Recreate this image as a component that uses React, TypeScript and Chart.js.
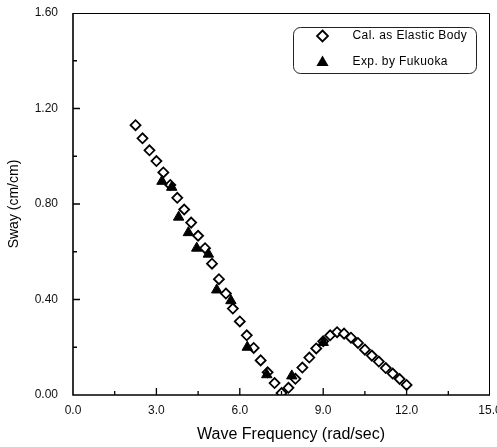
import React, { useEffect, useRef } from 'react';
import { Chart, registerables } from 'chart.js';

Chart.register(...registerables);

const calFreq = [2.25, 2.5, 2.75, 3.0, 3.25, 3.5, 3.75, 4.0, 4.25, 4.5, 4.75, 5.0, 5.25, 5.5, 5.75, 6.0, 6.25, 6.5, 6.75, 7.0, 7.25, 7.5, 7.75, 8.0, 8.25, 8.5, 8.75, 9.0, 9.25, 9.5, 9.75, 10.0, 10.25, 10.5, 10.75, 11.0, 11.25, 11.5, 11.75, 12.0];
const calSway = [1.13, 1.075, 1.025, 0.98, 0.932, 0.88, 0.826, 0.777, 0.722, 0.667, 0.615, 0.55, 0.485, 0.425, 0.362, 0.308, 0.25, 0.197, 0.145, 0.095, 0.05, 0.008, 0.03, 0.068, 0.115, 0.157, 0.195, 0.225, 0.25, 0.263, 0.257, 0.24, 0.218, 0.19, 0.165, 0.14, 0.113, 0.09, 0.067, 0.042];

const expFreq = [3.2, 3.55, 3.8, 4.15, 4.45, 4.87, 5.17, 5.68, 6.27, 6.97, 7.87, 9.0];
const expSway = [0.895, 0.87, 0.745, 0.68, 0.615, 0.59, 0.44, 0.395, 0.2, 0.085, 0.08, 0.22];

const seriesLabels = ['Cal. as Elastic Body', 'Exp. by Fukuoka'];
const xTitle = 'Wave Frequency (rad/sec)';
const yTitle = 'Sway (cm/cm)';

const xTickValues = [0, 3, 6, 9, 12, 15];
const xTickLabels = ['0.0', '3.0', '6.0', '9.0', '12.0', '15.0'];
const xMinorTicks = [1.5, 4.5, 7.5, 10.5, 13.5];
const yTickValues = [0, 0.4, 0.8, 1.2, 1.6];
const yTickLabels = ['0.00', '0.40', '0.80', '1.20', '1.60'];
const yMinorTicks = [0.2, 0.6, 1.0, 1.4];

const FONT = "'Liberation Sans', Arial, sans-serif";

function drawDiamond(ctx: CanvasRenderingContext2D, x: number, y: number, r: number) {
  ctx.beginPath();
  ctx.moveTo(x, y - r);
  ctx.lineTo(x + r, y);
  ctx.lineTo(x, y + r);
  ctx.lineTo(x - r, y);
  ctx.closePath();
  ctx.fillStyle = '#fff';
  ctx.fill();
  ctx.lineWidth = 1.8;
  ctx.strokeStyle = '#000';
  ctx.stroke();
}

function drawTriangle(ctx: CanvasRenderingContext2D, x: number, y: number, r: number) {
  ctx.beginPath();
  for (let i = 0; i < 3; i++) {
    const a = (i * 2 * Math.PI) / 3;
    const px = x + Math.sin(a) * r;
    const py = y - Math.cos(a) * r;
    if (i === 0) ctx.moveTo(px, py);
    else ctx.lineTo(px, py);
  }
  ctx.closePath();
  ctx.fillStyle = '#000';
  ctx.fill();
}

const framePlugin = {
  id: 'frameAndLegend',
  afterDraw(chart: any) {
    const ctx = chart.ctx as CanvasRenderingContext2D;
    const { left, right, top, bottom } = chart.chartArea;
    const xs = chart.scales.x;
    const ys = chart.scales.y;
    ctx.save();
    // frame
    ctx.strokeStyle = '#000';
    ctx.lineWidth = 1;
    ctx.beginPath();
    ctx.moveTo(left, top + 0.5);
    ctx.lineTo(right - 0.5, top + 0.5);
    ctx.lineTo(right - 0.5, bottom);
    ctx.stroke();
    ctx.lineWidth = 1.6;
    ctx.beginPath();
    ctx.moveTo(left, top);
    ctx.lineTo(left, bottom);
    ctx.lineTo(right, bottom);
    ctx.stroke();
    // inside ticks
    ctx.lineWidth = 1.3;
    ctx.beginPath();
    xTickValues.forEach((v) => {
      if (v === 0 || v === 15) return;
      const px = xs.getPixelForValue(v);
      ctx.moveTo(px, bottom);
      ctx.lineTo(px, bottom - 7);
    });
    xMinorTicks.forEach((v) => {
      const px = xs.getPixelForValue(v);
      ctx.moveTo(px, bottom);
      ctx.lineTo(px, bottom - 4);
    });
    yTickValues.forEach((v) => {
      if (v === 0 || v === 1.6) return;
      const py = ys.getPixelForValue(v);
      ctx.moveTo(left, py);
      ctx.lineTo(left + 7, py);
    });
    yMinorTicks.forEach((v) => {
      const py = ys.getPixelForValue(v);
      ctx.moveTo(left, py);
      ctx.lineTo(left + 4, py);
    });
    ctx.stroke();

    // x axis title
    ctx.fillStyle = '#000';
    ctx.font = `16px ${FONT}`;
    ctx.textAlign = 'center';
    ctx.textBaseline = 'middle';
    ctx.fillText(xTitle, 291, 435);

    // legend box
    const bx = right - 196.5;
    const by = top + 14.5;
    const bw = 183;
    const bh = 46;
    ctx.lineWidth = 1;
    ctx.strokeStyle = '#222';
    ctx.beginPath();
    (ctx as any).roundRect(bx, by, bw, bh, 7);
    ctx.stroke();
    drawDiamond(ctx, bx + 29, by + 8.5, 5.5);
    drawTriangle(ctx, bx + 29, by + 35, 7);
    ctx.fillStyle = '#000';
    ctx.font = `12px ${FONT}`;
    (ctx as any).letterSpacing = '0.4px';
    ctx.textBaseline = 'middle';
    ctx.textAlign = 'left';
    ctx.fillText(seriesLabels[0], bx + 59, by + 8.5);
    ctx.fillText(seriesLabels[1], bx + 59, by + 34);
    ctx.restore();
  },
};

export default function App() {
  const canvasRef = useRef<HTMLCanvasElement | null>(null);

  useEffect(() => {
    document.body.style.margin = '0';
    const canvas = canvasRef.current;
    if (!canvas) return;
    const chart = new Chart(canvas, {
      type: 'scatter',
      data: {
        datasets: [
          {
            label: seriesLabels[0],
            data: calFreq.map((x, i) => ({ x, y: calSway[i] })),
            pointStyle: 'rectRot',
            pointRadius: 5,
            pointBackgroundColor: '#fff',
            pointBorderColor: '#000',
            pointBorderWidth: 1.8,
            showLine: false,
            order: 1,
          },
          {
            label: seriesLabels[1],
            data: expFreq.map((x, i) => ({ x, y: expSway[i] })),
            pointStyle: 'triangle',
            pointRadius: 6,
            pointBackgroundColor: '#000',
            pointBorderColor: '#000',
            pointBorderWidth: 1,
            showLine: false,
            order: 0,
          },
        ],
      },
      options: {
        animation: false,
        responsive: true,
        maintainAspectRatio: false,
        layout: { padding: { top: 13, right: 7, bottom: 0, left: 0 } },
        plugins: {
          legend: { display: false },
          tooltip: { enabled: false },
        },
        scales: {
          x: {
            type: 'linear',
            min: 0,
            max: 15,
            afterBuildTicks: (scale: any) => {
              scale.ticks = xTickValues.map((v) => ({ value: v }));
            },
            afterFit: (scale: any) => {
              scale.height = 52;
              scale.paddingLeft = 0;
              scale.paddingRight = 0;
            },
            grid: { display: false, drawTicks: false },
            border: { display: false },
            ticks: {
              padding: 8,
              color: '#111',
              maxRotation: 0,
              autoSkip: false,
              font: { family: FONT, size: 12 },
              callback: (v: any) => {
                const i = xTickValues.indexOf(Number(v));
                return i >= 0 ? xTickLabels[i] : '';
              },
            },
            title: { display: false },
          },
          y: {
            type: 'linear',
            min: 0,
            max: 1.6,
            afterBuildTicks: (scale: any) => {
              scale.ticks = yTickValues.map((v) => ({ value: v }));
            },
            afterFit: (scale: any) => {
              scale.width = 73;
              scale.paddingTop = 0;
              scale.paddingBottom = 0;
            },
            grid: { display: false, drawTicks: false },
            border: { display: false },
            ticks: {
              padding: 15,
              color: '#111',
              autoSkip: false,
              font: { family: FONT, size: 12 },
              callback: (v: any) => {
                const i = yTickValues.findIndex((t) => Math.abs(t - Number(v)) < 1e-9);
                return i >= 0 ? yTickLabels[i] : '';
              },
            },
            title: {
              display: true,
              text: yTitle,
              color: '#000',
              font: { family: FONT, size: 14 },
              padding: { top: 6, bottom: 0 },
            },
          },
        },
      },
      plugins: [framePlugin],
    });
    return () => chart.destroy();
  }, []);

  return (
    <div style={{ width: 497, height: 447, position: 'relative' }}>
      <canvas ref={canvasRef} />
    </div>
  );
}
